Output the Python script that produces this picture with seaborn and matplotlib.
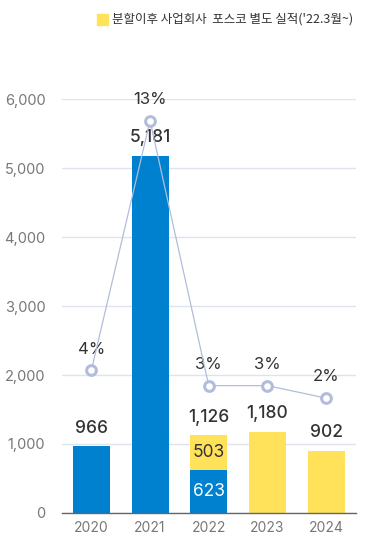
import numpy as np
import matplotlib
matplotlib.use("Agg")
import matplotlib.pyplot as plt
import seaborn as sns

years = ["2020", "2021", "2022", "2023", "2024"]
before_split = [966, 5181, 623, 0, 0]      # blue
after_split = [0, 0, 503, 1180, 902]       # yellow
totals = [966, 5181, 1126, 1180, 902]
total_labels = ["966", "5,181", "1,126", "1,180", "902"]
margin_pct = [4.0, 13.0, 3.45, 3.45, 3.0]
margin_labels = ["4%", "13%", "3%", "3%", "2%"]
legend_label = "분할이후 사업회사  포스코 별도 실적('22.3월~)"

BLUE = "#0081d0"
YELLOW = "#ffe25a"
LINE = "#b3bddb"
GRID = "#dfe3ee"

sns.set_theme(style="white")
plt.rcParams['font.family'] = ['Inter', 'Noto Sans CJK KR', 'DejaVu Sans']

fig = plt.figure(figsize=(3.78, 5.6), dpi=100)
ax = fig.add_axes([0.164, 0.084, 0.778, 0.739])

x = np.arange(len(years))
sns.barplot(x=years, y=before_split, color=BLUE, width=0.63,
            saturation=1, linewidth=0, ax=ax, zorder=2)
ax.bar(x, after_split, bottom=before_split, color=YELLOW, width=0.63,
       linewidth=0, zorder=2)

ax.set_ylim(0, 6000)
ax.set_xlim(-0.485, 4.51)
ax.set_yticks(range(0, 6001, 1000))
ax.set_yticklabels([f"{v:,}" for v in range(0, 6001, 1000)])
ax.yaxis.grid(True, color=GRID, linewidth=1, zorder=0)
ax.set_axisbelow(True)
for s in ["top", "right", "left"]:
    ax.spines[s].set_visible(False)
ax.spines["bottom"].set_color("#666666")
ax.spines["bottom"].set_linewidth(1)
ax.tick_params(axis="y", length=0, labelsize=10.5, labelcolor="#777777", pad=12)
ax.tick_params(axis="x", which="major", length=0, labelsize=10,
               labelcolor="#777777", pad=6)
ax.set_xticks(np.arange(-0.5, 5, 1), minor=True)
ax.tick_params(axis="x", which="minor", length=4, color="#666666", width=1)

# total labels above bars
for i, (t, lab) in enumerate(zip(totals, total_labels)):
    ax.annotate(lab, (i, t), xytext=(0, 7), textcoords="offset points",
                ha="center", va="bottom", fontsize=12.5, fontweight="medium",
                color="#333333", clip_on=False)
# inner labels for 2022 split
ax.text(2, before_split[2] + after_split[2] / 2, "503", ha="center", va="center",
        fontsize=12.5, color="#333333", zorder=3)
ax.text(2, before_split[2] / 2, "623", ha="center", va="center",
        fontsize=12.5, color="white", zorder=3)

# margin line on twin axis
ax2 = ax.twinx()
ax2.set_ylim(-1.14, 13.78)
ax2.axis("off")
sns.lineplot(x=x, y=margin_pct, ax=ax2, color=LINE, linewidth=0.9,
             marker="o", markersize=7, markerfacecolor="white",
             markeredgecolor=LINE, markeredgewidth=2.2, zorder=4)
for i, (p, lab) in enumerate(zip(margin_pct, margin_labels)):
    ax2.annotate(lab, (i, p), xytext=(0, 10), textcoords="offset points",
                 ha="center", va="bottom", fontsize=12, color="#333333",
                 clip_on=False)

# legend
fig.patches.append(plt.Rectangle((97 / 378, 1 - 25 / 560), 11 / 378, 11 / 560,
                                 transform=fig.transFigure, color=YELLOW,
                                 figure=fig))
fig.text(112 / 378, 1 - 19.5 / 560, legend_label, ha="left", va="center",
         fontsize=9, fontweight="medium", color="#333333",
         family=['Noto Sans CJK KR', 'DejaVu Sans'])

plt.savefig("out.png", dpi=100)
plt.close()
